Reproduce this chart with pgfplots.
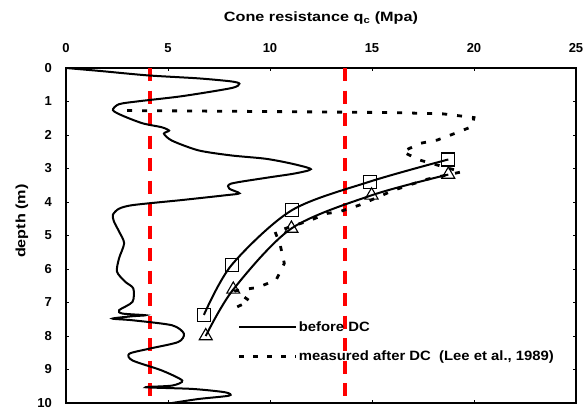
\documentclass[border=0pt]{standalone}
\usepackage{fontspec}
\setmainfont{Liberation Sans}
\newfontfamily\widefont[FakeStretch=1.2]{Liberation Sans}
\newfontfamily\legfont[FakeStretch=1.1]{Liberation Sans}
\usepackage{pgfplots}
\pgfplotsset{compat=1.18}
\begin{document}
\begin{tikzpicture}
\begin{axis}[
  scale only axis, width=510pt, height=335pt,
  xmin=0, xmax=25, ymin=0, ymax=10, y dir=reverse,
  xtick={0,5,...,25}, ytick={0,1,...,10},
  xticklabel pos=right,
  axis line style={line width=1.6pt},
  major tick length=3pt, tick style={black, line width=0.8pt},
  tick label style={font=\fontsize{13}{15}\selectfont\bfseries},
  /pgf/number format/assume math mode=true,
  xticklabel style={anchor=base, yshift=16pt},
  yticklabel style={anchor=east, inner sep=0pt, xshift=-14pt},
  title={Cone resistance q\textsubscript{c} (Mpa)},
  title style={at={(axis description cs:0.5,1)}, anchor=base, yshift=41pt, font=\widefont\fontsize{13.5}{15}\selectfont\bfseries},
  ylabel={depth (m)},
  ylabel style={at={(axis description cs:-0.0863,0.543)}, anchor=center, font=\widefont\fontsize{13.5}{15}\selectfont\bfseries},
  legend style={draw=none, fill=none, at={(rel axis cs:0.337,0.25)}, anchor=north west, inner sep=0pt, row sep=14pt, font=\legfont\fontsize{13.5}{15}\selectfont\bfseries, nodes={inner xsep=1pt}},
  legend cell align=left,
  legend image code/.code={\draw[#1] (0pt,0pt) -- (57pt,0pt);},
]
% red reference lines
\addplot[red, line width=4pt, dash pattern=on 13pt off 9.5pt, forget plot] coordinates {(4.1,0) (4.1,10)};
\addplot[red, line width=4pt, dash pattern=on 13pt off 9.5pt, forget plot] coordinates {(13.7,0) (13.7,10)};
% CPT profile before DC
\addplot[black, line width=2pt, smooth, tension=0.45, forget plot] coordinates {
(0,0) (1.7,0.09) (4.0,0.22) (6.5,0.31) (8.1,0.40) (8.5,0.47) (8.1,0.60) (5.7,0.84) (3.6,0.99) (2.6,1.08) (2.3,1.26) (2.8,1.43) (3.75,1.65) (4.7,1.77) (5.05,1.87) (4.8,1.96) (5.2,2.17) (6.5,2.46) (8.1,2.61) (9.8,2.71) (11.1,2.86) (12.0,3.02) (11.2,3.15) (9.9,3.27) (8.1,3.45) (8.0,3.6) (8.5,3.74) (7.8,3.8) (5.7,3.94) (3.3,4.09) (2.6,4.2) (2.3,4.38) (2.35,4.58) (2.6,4.88) (2.85,5.23) (2.6,5.68) (2.5,6.08) (2.9,6.38) (3.3,6.58) (3.26,6.98) (2.6,7.23) (2.77,7.33) (3.9,7.38) (3.26,7.41) (2.28,7.48) (3.26,7.53) (5.2,7.68) (5.78,7.93) (5.5,8.18) (4.07,8.38) (3.1,8.53) (3.26,8.73) (4.7,9.03) (5.7,9.33) (5.2,9.48) (3.9,9.53) (6.2,9.58) (7.8,9.68) (8.0,9.78) (6.5,9.88) (5.2,10)
};
% predicted curves
\addplot[black, line width=2pt, smooth, mark=square, mark size=6.5pt, mark options={solid, line width=1.1pt}, forget plot] coordinates {
(6.76,7.37) (8.12,5.88) (11.06,4.25) (14.9,3.39) (18.74,2.73)
};
\addplot[black, line width=2pt, smooth, mark=triangle, mark size=7.5pt, mark options={solid, line width=1.1pt}, forget plot] coordinates {
(6.85,8.0) (8.2,6.61) (11.05,4.79) (14.98,3.8) (18.74,3.18)
};
% measured after DC
\addplot[black, line width=2.8pt, dash pattern=on 5pt off 10pt, forget plot] coordinates {
(3.0,1.27) (10,1.30) (16,1.33) (18.5,1.37) (20.0,1.48) (19.9,1.75) (19.07,1.95) (18.2,2.15) (17.35,2.25) (16.5,2.5) (17.35,2.75) (18.8,3.0) (19.4,3.1) (17.7,3.32) (16.1,3.64) (14.4,4.09) (13.4,4.29) (12.8,4.34) (12.0,4.54) (10.25,4.89) (10.5,5.28) (10.7,5.83) (10.3,6.33) (9.4,6.55) (8.3,6.65) (9.0,6.95) (8.0,7.25)
};
\addlegendimage{black, line width=2pt}
\addlegendentry{before DC}
\addlegendimage{black, line width=2.8pt, dash pattern=on 5pt off 9pt}
\addlegendentry{measured after DC \ (Lee et al., 1989)}
\end{axis}
\pgfresetboundingbox
\path[use as bounding box] ([xshift=-66pt,yshift=-7pt]current axis.south west) rectangle ([xshift=11pt,yshift=68pt]current axis.north east);
\end{tikzpicture}
\end{document}
